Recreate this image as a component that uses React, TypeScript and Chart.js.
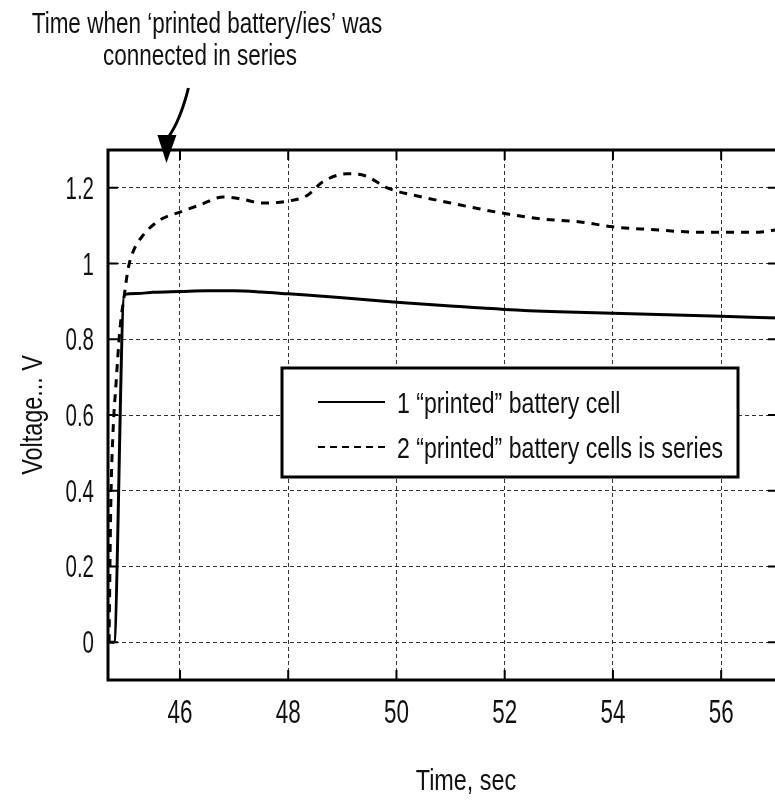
import React, { useEffect, useRef } from "react";
import { Chart, registerables } from "chart.js";

Chart.register(...registerables);

// ---- data ----
const solidTime = [44.70, 44.78, 44.97, 45.2, 45.5, 46.0, 46.5, 47.0, 47.5, 48.0, 49.0, 50.0, 51.0, 52.0, 53.0, 54.0, 55.0, 56.0, 57.05];
const solidVolt = [0, 0, 0.918, 0.921, 0.924, 0.926, 0.928, 0.928, 0.925, 0.92, 0.91, 0.898, 0.888, 0.879, 0.873, 0.869, 0.865, 0.861, 0.856];

const dashedTime = [44.69, 44.72, 44.76, 44.82, 44.89, 44.98, 45.04, 45.13, 45.32, 45.63, 46.0, 46.37, 46.8, 47.11, 47.54, 48.0, 48.35, 48.64, 49.09, 49.42, 49.83, 50.5, 51.0, 51.55, 52.05, 52.66, 53.4, 54.0, 54.7, 55.6, 56.0, 56.7, 57.05];
const dashedVolt = [0.0, 0.35, 0.546, 0.686, 0.826, 0.925, 0.985, 1.03, 1.075, 1.115, 1.136, 1.155, 1.176, 1.171, 1.16, 1.165, 1.18, 1.216, 1.237, 1.232, 1.2, 1.175, 1.16, 1.144, 1.131, 1.118, 1.11, 1.097, 1.09, 1.083, 1.083, 1.083, 1.09];

const xTickValues = [46, 48, 50, 52, 54, 56];
const xTickLabels = ["46", "48", "50", "52", "54", "56"];
const yTickValues = [0, 0.2, 0.4, 0.6, 0.8, 1.0, 1.2];
const yTickLabels = ["0", "0.2", "0.4", "0.6", "0.8", "1", "1.2"];

const seriesNames = ["1 \u201cprinted\u201d battery cell", "2 \u201cprinted\u201d battery cells is series"];
const annotationLines = ["Time when \u2018printed battery/ies\u2019 was", "connected in series"];
const connectTime = 45.75;
const xTitle = "Time, sec";
const yTitle = "Voltage... V";

const FONT = "'Liberation Sans', Arial, sans-serif";

function narrowText(ctx: any, text: string, x: number, y: number, size: number, sx: number, align: CanvasTextAlign, rot = 0) {
  ctx.save();
  ctx.translate(x, y);
  if (rot) ctx.rotate(rot);
  ctx.scale(sx, 1);
  ctx.font = `${size}px ${FONT}`;
  ctx.textAlign = align;
  ctx.textBaseline = "alphabetic";
  ctx.fillStyle = "#111";
  ctx.fillText(text, 0, 0);
  ctx.restore();
}

const decorPlugin = {
  id: "decor",
  afterDatasetsDraw(chart: any) {
    const ctx = chart.ctx;
    const a = chart.chartArea;
    const xs = chart.scales.x;
    const ys = chart.scales.y;
    ctx.save();
    // plot border
    ctx.strokeStyle = "#000";
    ctx.lineWidth = 3;
    ctx.setLineDash([]);
    ctx.strokeRect(a.left, a.top, a.right - a.left, a.bottom - a.top);
    // inward ticks
    ctx.lineWidth = 2;
    const tl = 10;
    xTickValues.forEach((v, i) => {
      const px = xs.getPixelForValue(v);
      ctx.beginPath();
      ctx.moveTo(px, a.bottom);
      ctx.lineTo(px, a.bottom - tl);
      ctx.moveTo(px, a.top);
      ctx.lineTo(px, a.top + tl);
      ctx.stroke();
      narrowText(ctx, xTickLabels[i], px, a.bottom + 43, 34, 0.66, "center");
    });
    yTickValues.forEach((v, i) => {
      const py = ys.getPixelForValue(v);
      ctx.beginPath();
      ctx.moveTo(a.left, py);
      ctx.lineTo(a.left + tl, py);
      ctx.moveTo(a.right, py);
      ctx.lineTo(a.right - tl, py);
      ctx.stroke();
      narrowText(ctx, yTickLabels[i], a.left - 14, py + 11, 31, 0.66, "right");
    });

    // legend box
    const bx = a.left + 174, by = a.top + 218, bw = 456, bh = 109;
    ctx.fillStyle = "#fff";
    ctx.fillRect(bx, by, bw, bh);
    ctx.lineWidth = 3;
    ctx.strokeStyle = "#000";
    ctx.strokeRect(bx, by, bw, bh);
    const rows = [by + 34, by + 79];
    rows.forEach((ry, i) => {
      ctx.beginPath();
      ctx.lineWidth = 2;
      ctx.setLineDash(i === 0 ? [] : [7, 5]);
      ctx.moveTo(bx + 36, ry);
      ctx.lineTo(bx + 103, ry);
      ctx.stroke();
      ctx.setLineDash([]);
      narrowText(ctx, seriesNames[i], bx + 115, ry + 11, 30, 0.77, "left");
    });

    // annotation text
    narrowText(ctx, annotationLines[0], 207, 33, 30, 0.75, "center");
    narrowText(ctx, annotationLines[1], 200, 65, 30, 0.75, "center");

    // arrow
    const tipX = xs.getPixelForValue(connectTime);
    const tipY = a.top + 13;
    ctx.fillStyle = "#000";
    ctx.lineWidth = 3;
    ctx.beginPath();
    ctx.moveTo(tipX + 22, 88);
    ctx.quadraticCurveTo(tipX + 14, 120, tipX + 2, tipY - 26);
    ctx.stroke();
    ctx.beginPath();
    ctx.moveTo(tipX - 9, tipY - 28);
    ctx.lineTo(tipX + 10, tipY - 28);
    ctx.lineTo(tipX, tipY);
    ctx.closePath();
    ctx.fill();

    // axis titles
    narrowText(ctx, xTitle, 466, 790, 30, 0.78, "center");
    narrowText(ctx, yTitle, 42, 415, 30, 0.78, "center", -Math.PI / 2);
    ctx.restore();
  },
};

export default function App() {
  const ref = useRef<HTMLCanvasElement | null>(null);
  useEffect(() => {
    document.body.style.margin = "0";
    const canvas = ref.current!;
    const chart = new Chart(canvas, {
      type: "line",
      data: {
        datasets: [
          {
            label: seriesNames[0],
            data: solidTime.map((t, i) => ({ x: t, y: solidVolt[i] })),
            borderColor: "#000",
            borderWidth: 3,
            pointRadius: 0,
            cubicInterpolationMode: "monotone",
            fill: false,
          },
          {
            label: seriesNames[1],
            data: dashedTime.map((t, i) => ({ x: t, y: dashedVolt[i] })),
            borderColor: "#000",
            borderWidth: 3,
            borderDash: [8, 7],
            pointRadius: 0,
            cubicInterpolationMode: "monotone",
            fill: false,
          },
        ],
      },
      options: {
        animation: false,
        responsive: false,
        layout: { padding: { top: 150, right: 2, left: 0, bottom: 0 } },
        plugins: { legend: { display: false }, tooltip: { enabled: false } },
        scales: {
          x: {
            type: "linear",
            min: 44.67,
            max: 57.05,
            afterBuildTicks: (s: any) => {
              s.ticks = xTickValues.map((v) => ({ value: v }));
            },
            afterFit: (s: any) => {
              s.height = 121;
            },
            grid: { color: "#333", lineWidth: 1, drawTicks: false },
            border: { display: false, dash: [4, 3] },
            ticks: { display: false },
          },
          y: {
            type: "linear",
            min: -0.1,
            max: 1.3,
            afterBuildTicks: (s: any) => {
              s.ticks = yTickValues.map((v) => ({ value: v }));
            },
            afterFit: (s: any) => {
              s.width = 108;
            },
            grid: { color: "#333", lineWidth: 1, drawTicks: false },
            border: { display: false, dash: [4, 3] },
            ticks: { display: false },
          },
        },
      },
      plugins: [decorPlugin],
    });
    return () => chart.destroy();
  }, []);
  return (
    <div style={{ width: 775, height: 801, overflow: "hidden", background: "#fff" }}>
      <canvas ref={ref} width={780} height={801} />
    </div>
  );
}
